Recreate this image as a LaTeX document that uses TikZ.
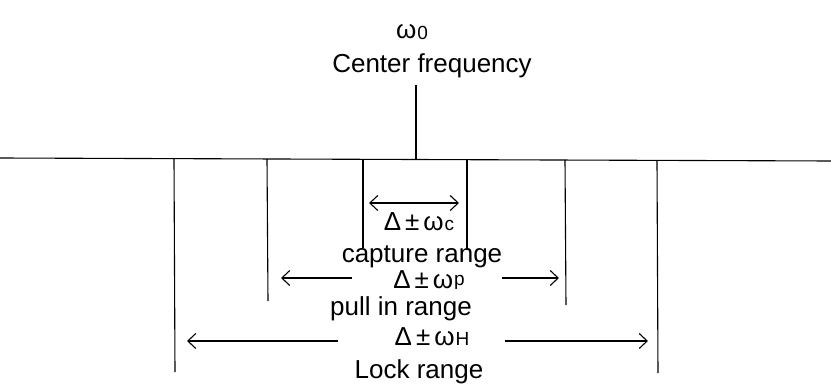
\documentclass[tikz,border=0pt]{standalone}
\usepackage{fontspec}
\setmainfont{Liberation Sans}
\usepackage{tikz}
\usetikzlibrary{arrows.meta}
\tikzset{every node/.style={font=\fontsize{26}{30}\selectfont, inner sep=0pt}}
\colorlet{axiscol}{black}
\colorlet{rangecol}{black}
\colorlet{labelcol}{black}
% omega with a small index, as written in the sketch
\newcommand{\omgsub}[2][0pt]{ω\kern1pt\raisebox{#1}{\fontsize{19}{20}\selectfont #2}}
\newcommand{\deltapm}[2][0pt]{Δ\kern4pt±\kern4pt\omgsub[#1]{#2}}

\begin{document}
\begin{tikzpicture}[x=1pt, y=-1pt, line width=1.1pt, >={Straight Barb[length=8pt,width=15pt]}]

  \useasboundingbox[fill=white] (0,0) rectangle (831,388);

  % Frequency axis.
  \coordinate (axisL) at (0,158);
  \coordinate (axisR) at (831,161);
  \draw[axiscol] (axisL) -- (axisR);

  % Center frequency marker.
  \coordinate (ctrtop) at (416,85);
  \coordinate (ctrbot) at (416,159);
  \draw[axiscol] (ctrtop) -- (ctrbot);
  \node[anchor=base, text=labelcol] (w0) at (412,38) {\omgsub[-1pt]{0}};
  \node[anchor=base, text=labelcol] (ctrlbl) at (432,72) {Center frequency};

  % Range limits (lock, pull in, capture).
  \foreach \nm/\xa/\ya/\xb/\yb in {lockL/174/159/175/372, pullL/267/159/268/301,
      capL/363/159/363/248, capR/467/160/467/250, pullR/565/160/566/305,
      lockR/657/161/658/373} {
    \coordinate (\nm-t) at (\xa,\ya);
    \coordinate (\nm-b) at (\xb,\yb);
    \draw[rangecol] (\nm-t) -- (\nm-b);
  }

  % Capture range.
  \coordinate (capA) at (369,203);
  \coordinate (capB) at (459,203);
  \draw[<->, rangecol] (capA) -- (capB);
  \node[anchor=base, text=labelcol] (wc) at (419,230) {\deltapm{c}};
  \node[anchor=base, text=labelcol] (caplbl) at (422,262) {capture range};

  % Pull in range.
  \coordinate (pullAt) at (352,278);
  \coordinate (pullA) at (281,278);
  \coordinate (pullBt) at (502,278);
  \coordinate (pullB) at (559,278);
  \draw[->, rangecol] (pullAt) -- (pullA);
  \draw[->, rangecol] (pullBt) -- (pullB);
  \node[anchor=base, text=labelcol] (wp) at (429,288) {\deltapm[3pt]{p}};
  \node[anchor=base, text=labelcol] (pulllbl) at (401,315) {pull in range};

  % Lock range.
  \coordinate (lockAt) at (338,341);
  \coordinate (lockA) at (187,341);
  \coordinate (lockBt) at (505,341);
  \coordinate (lockB) at (648,341);
  \draw[->, rangecol] (lockAt) -- (lockA);
  \draw[->, rangecol] (lockBt) -- (lockB);
  \node[anchor=base, text=labelcol] (wH) at (432,345) {\deltapm{H}};
  \node[anchor=base, text=labelcol] (locklbl) at (419,378) {Lock range};

\end{tikzpicture}
\end{document}
